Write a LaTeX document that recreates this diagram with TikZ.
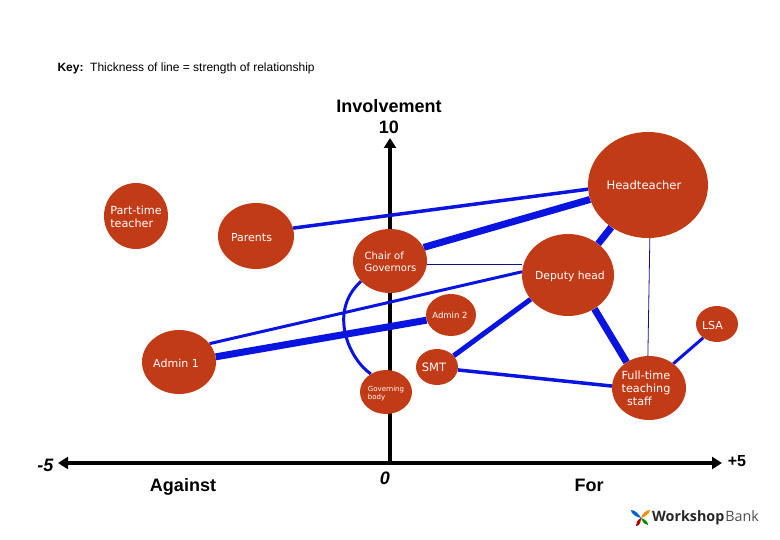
\documentclass[tikz,border=0pt]{standalone}
\usepackage{fontspec}
\setmainfont{Liberation Sans}
\newfontfamily\vfont{DejaVu Sans}
\newfontfamily\logofont{Open Sans}
\usetikzlibrary{shapes.geometric,arrows.meta}
\pgfdeclarelayer{ax}\pgfdeclarelayer{bg}
\pgfsetlayers{ax,bg,main}
\definecolor{brick}{HTML}{C23B17}
\definecolor{linkblue}{HTML}{0A14E0}
\definecolor{thinblue}{HTML}{101090}
% size, leading, x offset, y offset, text: a label that does not affect the ellipse size
\newcommand\lbl[5]{\hbox to 0pt{\kern#3pt\makebox[0pt]{\raisebox{#4pt}[0pt][0pt]{\vfont\fontsize{#1}{#2}\selectfont\begin{tabular}[c]{@{}l@{}}#5\end{tabular}}}\hss}}
\tikzset{
  axtip/.tip={Triangle[length=10pt,width=12pt]},
  actor/.style={ellipse,fill=brick,inner sep=0pt,text=white},
  link/.style={draw=linkblue,line width=#1},
  thin link/.style={draw=thinblue,line width=0.8pt},
  axisline/.style={draw=black,line width=3.5pt},
  axlabel/.style={font=\bfseries\fontsize{#1}{#1}\selectfont,text=black,align=center}
}
\begin{document}
\begin{tikzpicture}[x=1pt,y=-1pt]
\useasboundingbox (0,0) rectangle (780,540);
\node[actor,minimum width=120pt,minimum height=106pt] (head) at (648,185) {\lbl{11.6}{13}{-4}{-5}{Headteacher}};
\node[actor,minimum width=64pt,minimum height=66pt] (pt) at (136,216) {\lbl{11.2}{13}{0}{-5}{Part-time\\teacher}};
\node[actor,minimum width=76pt,minimum height=66pt] (parents) at (256,236) {\lbl{11}{13}{-4.5}{-6}{Parents}};
\node[actor,minimum width=74pt,minimum height=64pt] (chair) at (390,261) {\lbl{10}{12}{0.5}{-4.5}{Chair of\\Governors}};
\node[actor,minimum width=92pt,minimum height=82pt] (deputy) at (568,275) {\lbl{10.8}{13}{2}{-5}{Deputy head}};
\node[actor,minimum width=50pt,minimum height=42pt] (admintwo) at (451,315) {\lbl{8.5}{10}{-1}{-4}{Admin 2}};
\node[actor,minimum width=42pt,minimum height=36pt] (lsa) at (717,324) {\lbl{11}{13}{-4.5}{-6}{LSA}};
\node[actor,minimum width=74pt,minimum height=64pt] (adminone) at (179,362) {\lbl{11}{13}{-3}{-6}{Admin 1}};
\node[actor,minimum width=42pt,minimum height=36pt] (smt) at (437,367) {\lbl{11.5}{13}{-3}{-5}{SMT}};
\node[actor,minimum width=52pt,minimum height=44pt] (gov) at (386,392) {\lbl{7}{8}{0}{-3.5}{Governing\\body}};
\node[actor,minimum width=74pt,minimum height=64pt] (full) at (649,388) {\lbl{11.2}{13}{-3}{-5}{Full-time\\teaching\\\ \,staff}};
\begin{pgfonlayer}{bg}
\draw[link=3.5pt] (parents.12) -- (head.184);
\draw[link=7pt] (chair.22) -- (head.194);
\draw[link=7pt] (head.-131) -- (deputy.46);
\draw[thin link] (chair.east |- 0,264) -- (deputy.west |- 0,264);
\draw[link=3pt] (deputy.176) -- (adminone.31);
\draw[link=5pt] (deputy.-147) -- (smt.34);
\draw[link=7pt] (deputy.-52) -- (full.131);
\draw[thin link] (head.-88) -- (full.92);
\draw[link=3.5pt] (smt.-8) -- (full.177);
\draw[link=3pt] (lsa.-135) -- (full.45);
\draw[link=7pt] (adminone.8) -- (admintwo.192);
\draw[link=3pt] (gov.130) .. controls (350,360) and (327,312) .. (chair.-145);
\end{pgfonlayer}
\begin{pgfonlayer}{ax}
\coordinate (vbase) at (390,463);
\coordinate (vtop) at (390,138);
\coordinate (hleft) at (58,463);
\coordinate (hright) at (722,463);
\draw[axisline,-{axtip}] (vbase) -- (vtop);
\draw[axisline,{axtip}-{axtip}] (hleft) -- (hright);
\end{pgfonlayer}
\node[anchor=west,font=\fontsize{12}{12}\selectfont] (key) at (54,68) {\textbf{Key:}\ \ Thickness of line = strength of relationship};
\node[font=\bfseries\fontsize{18}{21}\selectfont,align=center,text=black] (inv) at (389,116.5) {Involvement\\10};
\node[axlabel=18] (m5) at (45.5,465) {\itshape -5};
\node[axlabel=18] (against) at (183,486.5) {Against};
\node[axlabel=18] (zero) at (385,478) {\itshape 0};
\node[axlabel=18] (for) at (589,485) {For};
\node[axlabel=16] (p5) at (737,461) {+5};
\begin{scope}[shift={(641,518)}]
\fill[red!70!black] (0,0) .. controls (-4,2) and (-5,5) .. (-5,8) .. controls (-2,8) and (0,5) .. (0,0) -- cycle;
\fill[green!55!black] (0,0) .. controls (2,5) and (4,7) .. (7,7) .. controls (7,4) and (4,1) .. (0,0) -- cycle;
\fill[blue!55!cyan!85!black] (0,0) .. controls (-2,-4) and (-6,-8) .. (-10,-8) .. controls (-10,-4) and (-5,-1) .. (0,0) -- cycle;
\fill[orange!90!yellow] (0,0) .. controls (4,-1) and (8,-4) .. (9,-8) .. controls (5,-8) and (1,-4) .. (0,0) -- cycle;
\end{scope}
\node[anchor=west,inner sep=0pt,text=black!85] (logo) at (652,518) {\logofont\fontsize{14.3}{14.3}\selectfont\textbf{Workshop}\kern1pt\color{black!70}Bank};
\end{tikzpicture}
\end{document}
